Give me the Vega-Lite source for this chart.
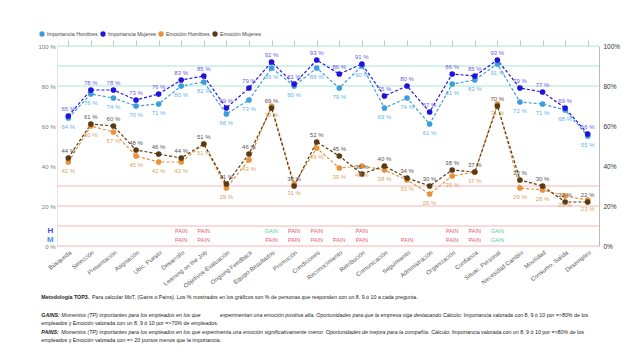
{
  "$schema": "https://vega.github.io/schema/vega-lite/v6.json",
  "width": 542,
  "height": 200,
  "autosize": {"type": "none"},
  "padding": {"left": 57, "top": 46, "right": 41, "bottom": 111},
  "background": "white",
  "config": {
    "view": {"stroke": null},
    "font": "Liberation Sans",
    "locale": {"number": {"decimal": ",", "thousands": ".", "grouping": [3], "currency": ["", " %"]}}
  },
  "datasets": {
    "gain": [{"v": 100}, {"v": 90}, {"v": 80}],
    "pain": [{"v": 30}, {"v": 20}, {"v": 10}, {"v": 0}],
    "series": [
      {"cat": "Búsqueda", "serie": "Importancia Hombres", "value": 64},
      {"cat": "Selección", "serie": "Importancia Hombres", "value": 76},
      {"cat": "Presentación", "serie": "Importancia Hombres", "value": 74},
      {"cat": "Asignación", "serie": "Importancia Hombres", "value": 70},
      {"cat": "Ubic. Puesto", "serie": "Importancia Hombres", "value": 71},
      {"cat": "Desarrollo", "serie": "Importancia Hombres", "value": 80},
      {"cat": "Learning on the Job", "serie": "Importancia Hombres", "value": 82},
      {"cat": "Objetivos-Evaluación", "serie": "Importancia Hombres", "value": 66},
      {"cat": "Ongoing Feedback", "serie": "Importancia Hombres", "value": 73},
      {"cat": "Equipo Resultados", "serie": "Importancia Hombres", "value": 89},
      {"cat": "Promoción", "serie": "Importancia Hombres", "value": 80},
      {"cat": "Condiciones", "serie": "Importancia Hombres", "value": 89},
      {"cat": "Reconocimiento", "serie": "Importancia Hombres", "value": 79},
      {"cat": "Retribución", "serie": "Importancia Hombres", "value": 90},
      {"cat": "Comunicación", "serie": "Importancia Hombres", "value": 69},
      {"cat": "Seguimiento", "serie": "Importancia Hombres", "value": 74},
      {"cat": "Administración", "serie": "Importancia Hombres", "value": 61},
      {"cat": "Organización", "serie": "Importancia Hombres", "value": 81},
      {"cat": "Confianza", "serie": "Importancia Hombres", "value": 83},
      {"cat": "Situac. Personal", "serie": "Importancia Hombres", "value": 91},
      {"cat": "Necesidad Cambio", "serie": "Importancia Hombres", "value": 72},
      {"cat": "Movilidad", "serie": "Importancia Hombres", "value": 71},
      {"cat": "Consumo. Salida", "serie": "Importancia Hombres", "value": 68},
      {"cat": "Desempleo", "serie": "Importancia Hombres", "value": 55},
      {"cat": "Búsqueda", "serie": "Importancia Mujeres", "value": 65},
      {"cat": "Selección", "serie": "Importancia Mujeres", "value": 78},
      {"cat": "Presentación", "serie": "Importancia Mujeres", "value": 78},
      {"cat": "Asignación", "serie": "Importancia Mujeres", "value": 73},
      {"cat": "Ubic. Puesto", "serie": "Importancia Mujeres", "value": 76},
      {"cat": "Desarrollo", "serie": "Importancia Mujeres", "value": 83},
      {"cat": "Learning on the Job", "serie": "Importancia Mujeres", "value": 85},
      {"cat": "Objetivos-Evaluación", "serie": "Importancia Mujeres", "value": 69},
      {"cat": "Ongoing Feedback", "serie": "Importancia Mujeres", "value": 79},
      {"cat": "Equipo Resultados", "serie": "Importancia Mujeres", "value": 92},
      {"cat": "Promoción", "serie": "Importancia Mujeres", "value": 81},
      {"cat": "Condiciones", "serie": "Importancia Mujeres", "value": 93},
      {"cat": "Reconocimiento", "serie": "Importancia Mujeres", "value": 86},
      {"cat": "Retribución", "serie": "Importancia Mujeres", "value": 91},
      {"cat": "Comunicación", "serie": "Importancia Mujeres", "value": 75},
      {"cat": "Seguimiento", "serie": "Importancia Mujeres", "value": 80},
      {"cat": "Administración", "serie": "Importancia Mujeres", "value": 67},
      {"cat": "Organización", "serie": "Importancia Mujeres", "value": 86},
      {"cat": "Confianza", "serie": "Importancia Mujeres", "value": 85},
      {"cat": "Situac. Personal", "serie": "Importancia Mujeres", "value": 93},
      {"cat": "Necesidad Cambio", "serie": "Importancia Mujeres", "value": 79},
      {"cat": "Movilidad", "serie": "Importancia Mujeres", "value": 77},
      {"cat": "Consumo. Salida", "serie": "Importancia Mujeres", "value": 69},
      {"cat": "Desempleo", "serie": "Importancia Mujeres", "value": 56},
      {"cat": "Búsqueda", "serie": "Emoción Hombres", "value": 42},
      {"cat": "Selección", "serie": "Emoción Hombres", "value": 60},
      {"cat": "Presentación", "serie": "Emoción Hombres", "value": 57},
      {"cat": "Asignación", "serie": "Emoción Hombres", "value": 45},
      {"cat": "Ubic. Puesto", "serie": "Emoción Hombres", "value": 42},
      {"cat": "Desarrollo", "serie": "Emoción Hombres", "value": 42},
      {"cat": "Learning on the Job", "serie": "Emoción Hombres", "value": 51},
      {"cat": "Objetivos-Evaluación", "serie": "Emoción Hombres", "value": 29},
      {"cat": "Ongoing Feedback", "serie": "Emoción Hombres", "value": 43},
      {"cat": "Equipo Resultados", "serie": "Emoción Hombres", "value": 70},
      {"cat": "Promoción", "serie": "Emoción Hombres", "value": 31},
      {"cat": "Condiciones", "serie": "Emoción Hombres", "value": 49},
      {"cat": "Reconocimiento", "serie": "Emoción Hombres", "value": 39},
      {"cat": "Retribución", "serie": "Emoción Hombres", "value": 40},
      {"cat": "Comunicación", "serie": "Emoción Hombres", "value": 38},
      {"cat": "Seguimiento", "serie": "Emoción Hombres", "value": 33},
      {"cat": "Administración", "serie": "Emoción Hombres", "value": 26},
      {"cat": "Organización", "serie": "Emoción Hombres", "value": 35},
      {"cat": "Confianza", "serie": "Emoción Hombres", "value": 37},
      {"cat": "Situac. Personal", "serie": "Emoción Hombres", "value": 71},
      {"cat": "Necesidad Cambio", "serie": "Emoción Hombres", "value": 29},
      {"cat": "Movilidad", "serie": "Emoción Hombres", "value": 28},
      {"cat": "Consumo. Salida", "serie": "Emoción Hombres", "value": 25},
      {"cat": "Desempleo", "serie": "Emoción Hombres", "value": 23},
      {"cat": "Búsqueda", "serie": "Emoción Mujeres", "value": 44},
      {"cat": "Selección", "serie": "Emoción Mujeres", "value": 61},
      {"cat": "Presentación", "serie": "Emoción Mujeres", "value": 60},
      {"cat": "Asignación", "serie": "Emoción Mujeres", "value": 48},
      {"cat": "Ubic. Puesto", "serie": "Emoción Mujeres", "value": 46},
      {"cat": "Desarrollo", "serie": "Emoción Mujeres", "value": 44},
      {"cat": "Learning on the Job", "serie": "Emoción Mujeres", "value": 51},
      {"cat": "Objetivos-Evaluación", "serie": "Emoción Mujeres", "value": 31},
      {"cat": "Ongoing Feedback", "serie": "Emoción Mujeres", "value": 46},
      {"cat": "Equipo Resultados", "serie": "Emoción Mujeres", "value": 69},
      {"cat": "Promoción", "serie": "Emoción Mujeres", "value": 30},
      {"cat": "Condiciones", "serie": "Emoción Mujeres", "value": 52},
      {"cat": "Reconocimiento", "serie": "Emoción Mujeres", "value": 45},
      {"cat": "Retribución", "serie": "Emoción Mujeres", "value": 36},
      {"cat": "Comunicación", "serie": "Emoción Mujeres", "value": 40},
      {"cat": "Seguimiento", "serie": "Emoción Mujeres", "value": 34},
      {"cat": "Administración", "serie": "Emoción Mujeres", "value": 30},
      {"cat": "Organización", "serie": "Emoción Mujeres", "value": 38},
      {"cat": "Confianza", "serie": "Emoción Mujeres", "value": 37},
      {"cat": "Situac. Personal", "serie": "Emoción Mujeres", "value": 70},
      {"cat": "Necesidad Cambio", "serie": "Emoción Mujeres", "value": 33},
      {"cat": "Movilidad", "serie": "Emoción Mujeres", "value": 30},
      {"cat": "Consumo. Salida", "serie": "Emoción Mujeres", "value": 22},
      {"cat": "Desempleo", "serie": "Emoción Mujeres", "value": 22}
    ],
    "tags": [
      {"cat": "Desarrollo", "H": "PAIN", "M": "PAIN"},
      {"cat": "Learning on the Job", "H": "PAIN", "M": "PAIN"},
      {"cat": "Equipo Resultados", "H": "GAIN", "M": "PAIN"},
      {"cat": "Promoción", "H": "PAIN", "M": "PAIN"},
      {"cat": "Condiciones", "H": "PAIN", "M": "PAIN"},
      {"cat": "Reconocimiento", "H": "", "M": "PAIN"},
      {"cat": "Retribución", "H": "PAIN", "M": "PAIN"},
      {"cat": "Seguimiento", "H": "", "M": "PAIN"},
      {"cat": "Organización", "H": "PAIN", "M": "PAIN"},
      {"cat": "Confianza", "H": "PAIN", "M": "PAIN"},
      {"cat": "Situac. Personal", "H": "GAIN", "M": "GAIN"}
    ],
    "rowcodes": [{"code": "H"}, {"code": "M"}],
    "notes": [
      {"k": "m1", "t": "Metodología TOP3."},
      {"k": "m2", "t": "Para calcular MoT, (Gains o Pains). Los % mostrados en los gráficos son % de personas que responden con un 8, 9 ó 10 a cada pregunta."},
      {"k": "g1", "t": "GAINS:"},
      {"k": "g2", "t": "Momentos (TP) importantes para los empleados en los que"},
      {"k": "g3", "t": "experimentan una emoción positiva alta. Oportunidades para que la empresa siga destacando."},
      {"k": "g4", "t": "Cálculo: Importancia valorada con 8, 9 ó 10 por =>80% de los"},
      {"k": "g5", "t": "empleados y Emoción valorada con un 8, 9 ó 10 por =>70% de empleados."},
      {"k": "p1", "t": "PAINS:"},
      {"k": "p2", "t": "Momentos (TP) importantes para los empleados en los que experimenta una emoción significativamente menor. Oportunidades de mejora para la compañía."},
      {"k": "p3", "t": "Cálculo: Importancia valorada con un 8, 9 ó 10 por =>80% de los"},
      {"k": "p4", "t": "empleados y Emoción valorada con => 20 puntos menos que la importancia."}
    ]
  },
  "layer": [
    {
      "data": {"name": "gain"},
      "mark": {"type": "rule", "color": "#a9e7d0", "strokeWidth": 1},
      "encoding": {"y": {"field": "v", "type": "quantitative", "scale": {"domain": [0, 100], "nice": false},
        "axis": {"orient": "left", "values": [0, 20, 40, 60, 80, 100], "labelExpr": "datum.value + ' %'", "labelFontSize": 6, "labelColor": "#777", "ticks": false, "grid": false, "domain": true, "domainColor": "#e4e4e4", "labelPadding": 2, "title": null}}}
    },
    {
      "data": {"name": "pain"},
      "mark": {"type": "rule", "color": "#f7b4b4", "strokeWidth": 1},
      "encoding": {"y": {"field": "v", "type": "quantitative", "scale": {"domain": [0, 100], "nice": false},
        "axis": {"orient": "right", "values": [0, 20, 40, 60, 80, 100], "labelExpr": "datum.value + '%'", "labelFontSize": 6.5, "labelColor": "#333", "ticks": false, "grid": false, "domain": true, "domainColor": "#bbb", "labelPadding": 4, "title": null}}}
    },
    {
      "data": {"name": "series"},
      "mark": {"type": "line", "strokeDash": [3, 2], "strokeWidth": 1.2},
      "encoding": {
        "x": {"field": "cat", "type": "nominal", "scale": {"type": "point", "padding": 0.5, "domain": ["Búsqueda", "Selección", "Presentación", "Asignación", "Ubic. Puesto", "Desarrollo", "Learning on the Job", "Objetivos-Evaluación", "Ongoing Feedback", "Equipo Resultados", "Promoción", "Condiciones", "Reconocimiento", "Retribución", "Comunicación", "Seguimiento", "Administración", "Organización", "Confianza", "Situac. Personal", "Necesidad Cambio", "Movilidad", "Consumo. Salida", "Desempleo"]},
          "axis": {"orient": "bottom", "labelAngle": -38, "labelFontSize": 6, "labelColor": "#555", "ticks": false, "domain": false, "grid": false, "labelPadding": 3, "title": null}},
        "y": {"field": "value", "type": "quantitative", "scale": {"domain": [0, 100], "nice": false}, "axis": null},
        "color": {"field": "serie", "type": "nominal", "scale": {"domain": ["Importancia Hombres", "Importancia Mujeres", "Emoción Hombres", "Emoción Mujeres"], "range": ["#3d9fd9", "#2312de", "#e8923a", "#5a3a14"]},
          "legend": {"orient": "none", "legendX": -18, "legendY": -15, "direction": "horizontal", "gridAlign": "none", "symbolType": "circle", "symbolSize": 28, "symbolStrokeWidth": 0, "labelFontSize": 5.3, "labelColor": "#444", "labelOffset": 2, "columnPadding": 2, "title": null, "padding": 0}}
      }
    },
    {
      "data": {"name": "series"},
      "mark": {"type": "point", "filled": true, "opacity": 1, "size": 32},
      "encoding": {
        "x": {"field": "cat", "type": "nominal", "scale": {"type": "point", "padding": 0.5, "domain": ["Búsqueda", "Selección", "Presentación", "Asignación", "Ubic. Puesto", "Desarrollo", "Learning on the Job", "Objetivos-Evaluación", "Ongoing Feedback", "Equipo Resultados", "Promoción", "Condiciones", "Reconocimiento", "Retribución", "Comunicación", "Seguimiento", "Administración", "Organización", "Confianza", "Situac. Personal", "Necesidad Cambio", "Movilidad", "Consumo. Salida", "Desempleo"]},
          "axis": {"orient": "top", "labels": false, "ticks": true, "tickSize": 6, "tickColor": "#c4c4c4", "domain": false, "grid": false, "title": null}},
        "y": {"field": "value", "type": "quantitative", "scale": {"domain": [0, 100], "nice": false}, "axis": null},
        "color": {"field": "serie", "type": "nominal", "scale": {"domain": ["Importancia Hombres", "Importancia Mujeres", "Emoción Hombres", "Emoción Mujeres"], "range": ["#3d9fd9", "#2312de", "#e8923a", "#5a3a14"]},
          "legend": {"orient": "none", "legendX": -18, "legendY": -15, "direction": "horizontal", "gridAlign": "none", "symbolType": "circle", "symbolSize": 28, "symbolStrokeWidth": 0, "labelFontSize": 5.3, "labelColor": "#444", "labelOffset": 2, "columnPadding": 2, "title": null, "padding": 0}}
      }
    },
    {
      "data": {"name": "series"},
      "layer": [
        {"transform": [{"filter": "datum.serie === 'Importancia Mujeres'"}], "mark": {"type": "text", "fontSize": 6, "dy": -7, "color": "#6b5ce6"}},
        {"transform": [{"filter": "datum.serie === 'Importancia Hombres'"}], "mark": {"type": "text", "fontSize": 6, "dy": 9, "color": "#5fb4ea"}},
        {"transform": [{"filter": "datum.serie === 'Emoción Mujeres'"}], "mark": {"type": "text", "fontSize": 6, "dy": -7, "color": "#555555"}},
        {"transform": [{"filter": "datum.serie === 'Emoción Hombres'"}], "mark": {"type": "text", "fontSize": 6, "dy": 9, "color": "#d9a460"}}
      ],
      "encoding": {
        "x": {"field": "cat", "type": "nominal", "scale": {"type": "point", "padding": 0.5, "domain": ["Búsqueda", "Selección", "Presentación", "Asignación", "Ubic. Puesto", "Desarrollo", "Learning on the Job", "Objetivos-Evaluación", "Ongoing Feedback", "Equipo Resultados", "Promoción", "Condiciones", "Reconocimiento", "Retribución", "Comunicación", "Seguimiento", "Administración", "Organización", "Confianza", "Situac. Personal", "Necesidad Cambio", "Movilidad", "Consumo. Salida", "Desempleo"]}, "axis": null},
        "y": {"field": "value", "type": "quantitative", "scale": {"domain": [0, 100], "nice": false}, "axis": null},
        "text": {"field": "value", "type": "quantitative", "format": "$.0f"}
      }
    },
    {
      "data": {"name": "tags"},
      "layer": [
        {"mark": {"type": "text", "fontSize": 5.5}, "encoding": {
          "y": {"datum": 7.5, "type": "quantitative", "scale": {"domain": [0, 100], "nice": false}, "axis": null},
          "text": {"field": "H"},
          "color": {"condition": {"test": "datum.H === 'GAIN'", "value": "#5ccf9f"}, "value": "#e85a6a"}}},
        {"mark": {"type": "text", "fontSize": 5.5}, "encoding": {
          "y": {"datum": 3, "type": "quantitative", "scale": {"domain": [0, 100], "nice": false}, "axis": null},
          "text": {"field": "M"},
          "color": {"condition": {"test": "datum.M === 'GAIN'", "value": "#5ccf9f"}, "value": "#e85a6a"}}}
      ],
      "encoding": {
        "x": {"field": "cat", "type": "nominal", "scale": {"type": "point", "padding": 0.5, "domain": ["Búsqueda", "Selección", "Presentación", "Asignación", "Ubic. Puesto", "Desarrollo", "Learning on the Job", "Objetivos-Evaluación", "Ongoing Feedback", "Equipo Resultados", "Promoción", "Condiciones", "Reconocimiento", "Retribución", "Comunicación", "Seguimiento", "Administración", "Organización", "Confianza", "Situac. Personal", "Necesidad Cambio", "Movilidad", "Consumo. Salida", "Desempleo"]}, "axis": null}
      }
    },
    {
      "data": {"name": "rowcodes"},
      "layer": [
        {"transform": [{"filter": "datum.code === 'H'"}], "mark": {"type": "text", "fontSize": 8, "fontWeight": "bold", "color": "#4b45e6", "dx": -18},
          "encoding": {"y": {"datum": 7.5, "type": "quantitative", "scale": {"domain": [0, 100], "nice": false}, "axis": null}}},
        {"transform": [{"filter": "datum.code === 'M'"}], "mark": {"type": "text", "fontSize": 8, "fontWeight": "bold", "color": "#4d8fe8", "dx": -18},
          "encoding": {"y": {"datum": 3, "type": "quantitative", "scale": {"domain": [0, 100], "nice": false}, "axis": null}}}
      ],
      "encoding": {
        "x": {"datum": "Búsqueda", "type": "nominal", "scale": {"type": "point", "padding": 0.5, "domain": ["Búsqueda", "Selección", "Presentación", "Asignación", "Ubic. Puesto", "Desarrollo", "Learning on the Job", "Objetivos-Evaluación", "Ongoing Feedback", "Equipo Resultados", "Promoción", "Condiciones", "Reconocimiento", "Retribución", "Comunicación", "Seguimiento", "Administración", "Organización", "Confianza", "Situac. Personal", "Necesidad Cambio", "Movilidad", "Consumo. Salida", "Desempleo"]}, "axis": null},
        "text": {"field": "code"}
      }
    },
    {
      "data": {"name": "notes"},
      "layer": [
        {"transform": [{"filter": "datum.k === 'm1'"}], "mark": {"type": "text", "align": "left", "fontSize": 5.3, "fontWeight": "bold", "color": "#222", "dx": -27}, "encoding": {"y": {"datum": -25.5, "type": "quantitative", "scale": {"domain": [0, 100], "nice": false}, "axis": null}}},
        {"transform": [{"filter": "datum.k === 'm2'"}], "mark": {"type": "text", "align": "left", "fontSize": 5.3, "color": "#222", "dx": 23.7}, "encoding": {"y": {"datum": -25.5, "type": "quantitative", "scale": {"domain": [0, 100], "nice": false}, "axis": null}}},
        {"transform": [{"filter": "datum.k === 'g1'"}], "mark": {"type": "text", "align": "left", "fontSize": 5.3, "fontWeight": "bold", "fontStyle": "italic", "color": "#222", "dx": -27}, "encoding": {"y": {"datum": -34.5, "type": "quantitative", "scale": {"domain": [0, 100], "nice": false}, "axis": null}}},
        {"transform": [{"filter": "datum.k === 'g2'"}], "mark": {"type": "text", "align": "left", "fontSize": 5.3, "fontStyle": "italic", "color": "#222", "dx": -7}, "encoding": {"y": {"datum": -34.5, "type": "quantitative", "scale": {"domain": [0, 100], "nice": false}, "axis": null}}},
        {"transform": [{"filter": "datum.k === 'g3'"}], "mark": {"type": "text", "align": "left", "fontSize": 5.3, "fontStyle": "italic", "color": "#222", "dx": 151.7}, "encoding": {"y": {"datum": -34.5, "type": "quantitative", "scale": {"domain": [0, 100], "nice": false}, "axis": null}}},
        {"transform": [{"filter": "datum.k === 'g4'"}], "mark": {"type": "text", "align": "left", "fontSize": 5.3, "color": "#222", "dx": 374.7}, "encoding": {"y": {"datum": -34.5, "type": "quantitative", "scale": {"domain": [0, 100], "nice": false}, "axis": null}}},
        {"transform": [{"filter": "datum.k === 'g5'"}], "mark": {"type": "text", "align": "left", "fontSize": 5.3, "color": "#222", "dx": -27}, "encoding": {"y": {"datum": -38.3, "type": "quantitative", "scale": {"domain": [0, 100], "nice": false}, "axis": null}}},
        {"transform": [{"filter": "datum.k === 'p1'"}], "mark": {"type": "text", "align": "left", "fontSize": 5.3, "fontWeight": "bold", "fontStyle": "italic", "color": "#222", "dx": -27}, "encoding": {"y": {"datum": -43, "type": "quantitative", "scale": {"domain": [0, 100], "nice": false}, "axis": null}}},
        {"transform": [{"filter": "datum.k === 'p2'"}], "mark": {"type": "text", "align": "left", "fontSize": 5.3, "fontStyle": "italic", "color": "#222", "dx": -7}, "encoding": {"y": {"datum": -43, "type": "quantitative", "scale": {"domain": [0, 100], "nice": false}, "axis": null}}},
        {"transform": [{"filter": "datum.k === 'p3'"}], "mark": {"type": "text", "align": "left", "fontSize": 5.3, "color": "#222", "dx": 363}, "encoding": {"y": {"datum": -43, "type": "quantitative", "scale": {"domain": [0, 100], "nice": false}, "axis": null}}},
        {"transform": [{"filter": "datum.k === 'p4'"}], "mark": {"type": "text", "align": "left", "fontSize": 5.3, "color": "#222", "dx": -27}, "encoding": {"y": {"datum": -46.8, "type": "quantitative", "scale": {"domain": [0, 100], "nice": false}, "axis": null}}}
      ],
      "encoding": {
        "x": {"datum": "Búsqueda", "type": "nominal", "scale": {"type": "point", "padding": 0.5, "domain": ["Búsqueda", "Selección", "Presentación", "Asignación", "Ubic. Puesto", "Desarrollo", "Learning on the Job", "Objetivos-Evaluación", "Ongoing Feedback", "Equipo Resultados", "Promoción", "Condiciones", "Reconocimiento", "Retribución", "Comunicación", "Seguimiento", "Administración", "Organización", "Confianza", "Situac. Personal", "Necesidad Cambio", "Movilidad", "Consumo. Salida", "Desempleo"]}, "axis": null},
        "text": {"field": "t"}
      }
    }
  ],
  "resolve": {"axis": {"x": "independent", "y": "independent"}}
}
